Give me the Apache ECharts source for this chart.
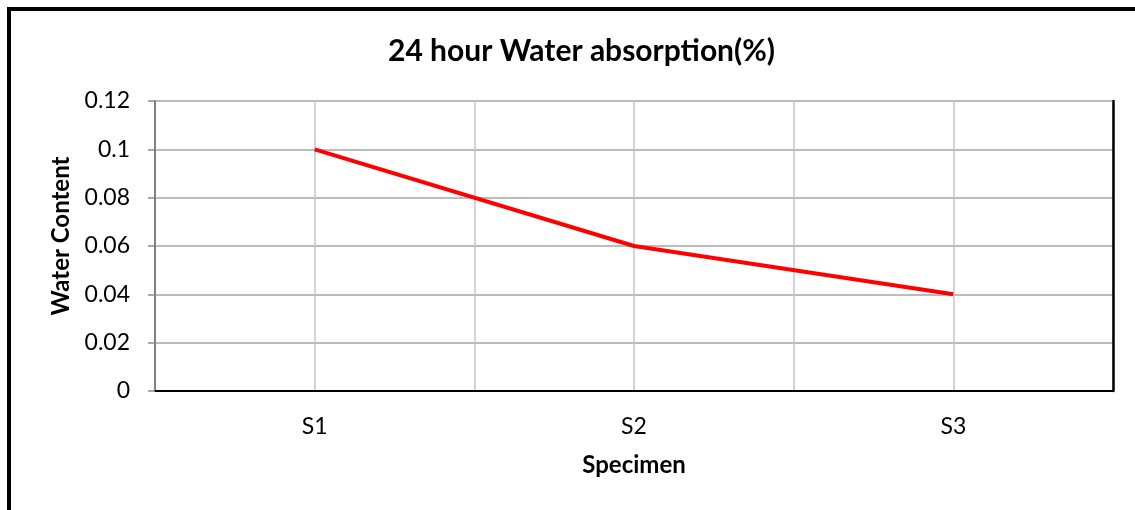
<!DOCTYPE html>
<html><head><meta charset="utf-8">
<script src="https://cdn.jsdelivr.net/npm/echarts@6/dist/echarts.min.js"></script>
<style>html,body{margin:0;padding:0;background:#fff}#c{width:1135px;height:510px}</style>
</head><body><div id="c"></div>
<script>
const categories = ['S1', 'S2', 'S3'];
const waterContent = [0.1, 0.06, 0.04];
const yTicks = { min: 0, max: 0.12, interval: 0.02 };
const FONT = 'Lato, "Open Sans", sans-serif';

const chart = echarts.init(document.getElementById('c'));
chart.setOption({
  animation: false,
  backgroundColor: '#fff',
  title: {
    text: '24 hour Water absorption(%)',
    left: 383, top: 31,
    textStyle: { fontFamily: FONT, fontWeight: 'bold', fontSize: 30, color: '#000' }
  },
  grid: { left: 155, top: 101, right: 22, bottom: 119, show: false },
  xAxis: [{
    type: 'category', data: categories, boundaryGap: true,
    name: 'Specimen', nameLocation: 'middle', nameGap: 62,
    nameTextStyle: { fontFamily: FONT, fontWeight: 'bold', fontSize: 24, color: '#000' },
    axisLine: { lineStyle: { color: '#7f7f7f', width: 2 } },
    axisTick: { show: false },
    axisLabel: { fontFamily: FONT, fontSize: 23, color: '#000', margin: 24 },
    splitLine: { show: false }
  }, {
    type: 'value', min: 0, max: 6, interval: 1, position: 'top',
    axisLine: { show: true, lineStyle: { color: '#000', width: 2 } },
    axisTick: { show: false }, axisLabel: { show: false },
    splitLine: { show: true, lineStyle: { color: '#c6c6c6', width: 1.5 } }
  }],
  yAxis: [{
    type: 'value', min: yTicks.min, max: yTicks.max, interval: yTicks.interval,
    name: 'Water Content', nameLocation: 'middle', nameGap: 80,
    nameTextStyle: { fontFamily: FONT, fontWeight: 'bold', fontSize: 24, color: '#000', padding: [0, 0, 0, 20] },
    axisLine: { show: true, lineStyle: { color: '#7f7f7f', width: 2 } },
    axisTick: { show: true, inside: false, length: 7, lineStyle: { color: '#8a8a8a', width: 1.5 } },
    axisLabel: { fontFamily: FONT, fontSize: 23, color: '#000', margin: 25,
      formatter: v => String(+v.toFixed(2)) },
    splitLine: { show: true, lineStyle: { color: '#a6a6a6', width: 1.5 } }
  }, {
    type: 'value', min: yTicks.min, max: yTicks.max, interval: yTicks.interval, position: 'right',
    axisLine: { show: true, lineStyle: { color: '#000', width: 2.5 } },
    axisTick: { show: false }, axisLabel: { show: false }, splitLine: { show: false }
  }],
  series: [{
    type: 'line', data: waterContent, xAxisIndex: 0, yAxisIndex: 0,
    showSymbol: false, symbol: 'none',
    lineStyle: { color: '#ff0000', width: 4 }, z: 5
  }],
  graphic: [
    { type: 'rect', shape: { x: 7, y: 7, width: 1140, height: 4 }, style: { fill: '#000' } },
    { type: 'rect', shape: { x: 7, y: 7, width: 4, height: 510 }, style: { fill: '#000' } }
  ]
});
</script></body></html>
